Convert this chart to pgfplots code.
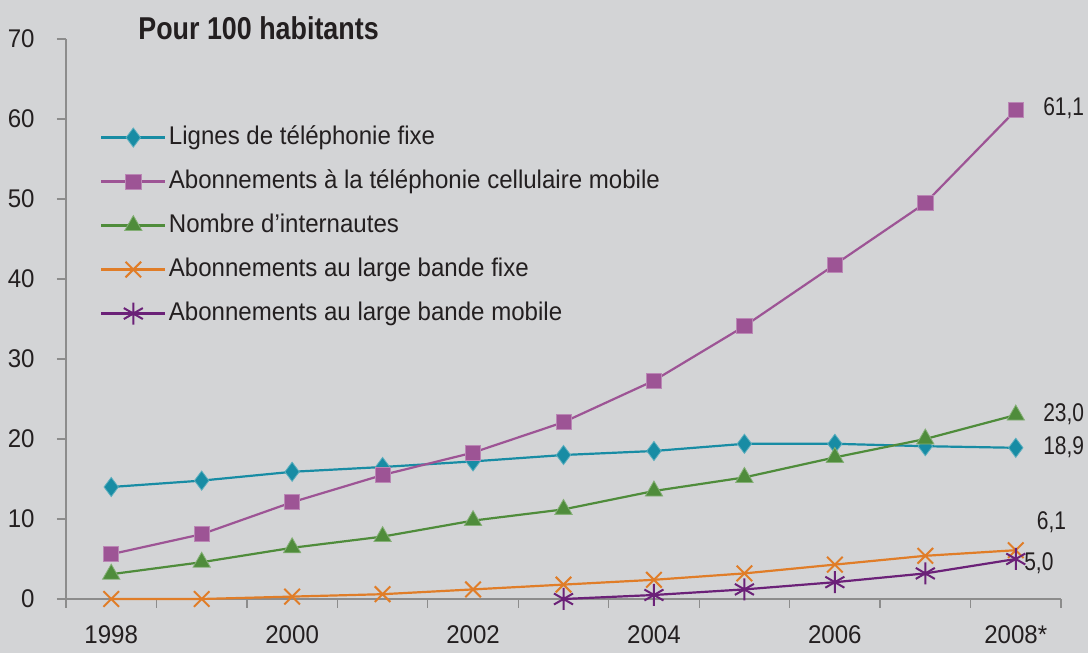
\documentclass[border=0pt]{standalone}
\usepackage{fontspec}
\setmainfont{Liberation Sans}[FakeStretch=0.94]
\newfontfamily\titlefont{Liberation Sans Bold}[FakeStretch=0.85]
\newfontfamily\numfont{Liberation Sans}[FakeStretch=0.82]
\usepackage{pgfplots}
\pgfplotsset{compat=1.18}
\definecolor{bgc}{RGB}{211,212,214}
\definecolor{axc}{RGB}{140,140,140}
\definecolor{txt}{RGB}{35,31,32}
\definecolor{cteal}{RGB}{24,140,164}
\definecolor{cmag}{RGB}{157,84,149}
\definecolor{cgreen}{RGB}{79,140,59}
\definecolor{corange}{RGB}{224,125,40}
\definecolor{cpurp}{RGB}{107,33,120}
\begin{document}
\begin{tikzpicture}[x=1pt,y=1pt]
\fill[bgc] (-33,-27) rectangle (511,299.5);
\draw[axc, line width=0.6pt] (-4.5,0) -- (0,0);
\begin{axis}[
  at={(0,0)}, anchor=south west,
  scale only axis, width=497.5pt, height=280pt,
  xmin=-0.5, xmax=10.5, ymin=0, ymax=70,
  clip=false,
  axis lines*=left,
  axis line style={draw=axc, line width=0.6pt},
  tick style={draw=axc, line width=0.6pt},
  tick align=outside,
  major tick length=4.5pt,
  xtick={-0.5,0.5,1.5,2.5,3.5,4.5,5.5,6.5,7.5,8.5,9.5,10.5},
  xticklabels={},
  extra x ticks={0,2,4,6,8,10},
  extra x tick labels={1998,2000,2002,2004,2006,2008*},
  extra x tick style={major tick length=0pt, tick label style={inner sep=0pt, yshift=-13pt}},
  ytick={0,10,...,70},
  yticklabel style={inner sep=0pt, xshift=-11pt},
  ticklabel style={font=\fontsize{12.8}{15}\selectfont, text=txt},
  /pgf/number format/assume math mode=true,
  legend cell align=left,
  legend style={at={(0.034,0.864)}, anchor=north west, draw=none, fill=none,
    inner sep=0pt, font=\fontsize{12.8}{15}\selectfont, text=txt,
    nodes={inner xsep=1.25pt, inner ysep=5pt, text height=9.5pt, text depth=2.5pt}},
  legend image code/.code={\draw[mark repeat=2,mark phase=2] plot coordinates {(0pt,0pt) (16pt,0pt) (32pt,0pt)};},
]
\addplot[color=cteal, line width=1.1pt, mark=diamond*, mark size=4.8pt, mark options={fill=cteal, draw=cteal!70!white, line width=0.4pt}]
coordinates {(0,14.0) (1,14.8) (2,15.9) (3,16.5) (4,17.2) (5,18.0) (6,18.5) (7,19.4) (8,19.4) (9,19.1) (10,18.9)};
\addlegendentry{Lignes de téléphonie fixe}
\addplot[color=cmag, line width=1.1pt, mark=square*, mark size=3.8pt, mark options={fill=cmag, draw=cmag!70!white, line width=0.4pt}]
coordinates {(0,5.6) (1,8.1) (2,12.1) (3,15.5) (4,18.3) (5,22.1) (6,27.3) (7,34.1) (8,41.8) (9,49.5) (10,61.1)};
\addlegendentry{Abonnements à la téléphonie cellulaire mobile}
\addplot[color=cgreen, line width=1.1pt, mark=triangle*, mark size=5pt, mark options={fill=cgreen, draw=cgreen!70!white, line width=0.4pt}]
coordinates {(0,3.1) (1,4.6) (2,6.4) (3,7.8) (4,9.8) (5,11.2) (6,13.5) (7,15.2) (8,17.7) (9,20.0) (10,23.0)};
\addlegendentry{Nombre d'internautes}
\addplot[color=corange, line width=1.1pt, mark=x, mark size=5.5pt, mark options={line width=1pt}]
coordinates {(0,0) (1,0) (2,0.3) (3,0.6) (4,1.2) (5,1.8) (6,2.4) (7,3.2) (8,4.3) (9,5.4) (10,6.1)};
\addlegendentry{Abonnements au large bande fixe}
\addplot[color=cpurp, line width=1.1pt, mark=asterisk, mark size=5.5pt, mark options={line width=1pt}]
coordinates {(5,0) (6,0.5) (7,1.2) (8,2.1) (9,3.2) (10,5.0)};
\addlegendentry{Abonnements au large bande mobile}
\node[anchor=west, inner sep=0pt, text=txt, font=\fontsize{15.8}{18}\selectfont\titlefont] at (axis cs:0.296,71.4) {Pour 100 habitants};
\node[anchor=west, inner sep=0pt, text=txt, font=\fontsize{12.8}{15}\selectfont\numfont] at (axis cs:10.30,61.4) {61,1};
\node[anchor=west, inner sep=0pt, text=txt, font=\fontsize{12.8}{15}\selectfont\numfont] at (axis cs:10.30,23.1) {23,0};
\node[anchor=west, inner sep=0pt, text=txt, font=\fontsize{12.8}{15}\selectfont\numfont] at (axis cs:10.30,19.0) {18,9};
\node[anchor=west, inner sep=0pt, text=txt, font=\fontsize{12.8}{15}\selectfont\numfont] at (axis cs:10.23,9.6) {6,1};
\node[anchor=west, inner sep=0pt, text=txt, font=\fontsize{12.8}{15}\selectfont\numfont] at (axis cs:10.09,4.5) {5,0};
\end{axis}
\pgfresetboundingbox
\path[use as bounding box] (-33,-27) rectangle (511,299.5);
\end{tikzpicture}
\end{document}
